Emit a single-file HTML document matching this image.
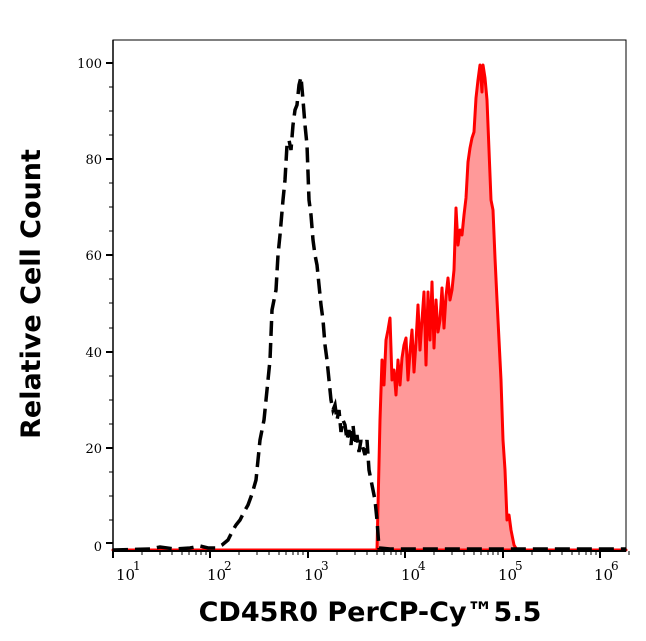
<!DOCTYPE html>
<html><head><meta charset="utf-8"><style>
body{margin:0;background:#fff;}
svg{display:block;font-family:"DejaVu Serif","Liberation Serif",serif;}
</style></head><body>
<svg width="646" height="641" viewBox="0 0 646 641" xmlns="http://www.w3.org/2000/svg">
<rect width="646" height="641" fill="#fff"/>
<path d="M113,550 L377,550 L380,420 L382,360 L384,385 L386,340 L388,330 L390,318 L392,380 L394,370 L396,395 L398,360 L400,385 L402,358 L404,345 L406,338 L408,380 L410,352 L412,330 L414,372 L416,342 L418,305 L420,350 L422,320 L424,292 L426,365 L428,292 L430,340 L432,282 L434,348 L436,300 L438,332 L440,320 L442,288 L444,328 L446,296 L448,278 L450,300 L452,290 L454,270 L456,208 L458,245 L460,230 L462,235 L464,215 L466,198 L468,162 L470,148 L472,138 L474,132 L476,98 L478,80 L480,65 L482,92 L483,65 L485,78 L487,100 L489,150 L491,200 L493,210 L495,258 L497,300 L499,340 L501,380 L503,440 L505,470 L507,520 L509,515 L511,530 L514,545 L517,550 L626,550 Z" fill="#ff9999" stroke="#ff0000" stroke-width="3" stroke-linejoin="round"/>
<polyline fill="none" stroke="#000" stroke-width="3.5" stroke-dasharray="15,7" points="113,550 150,549 160,547 175,549 190,548 200,546 208,548 216,548 222,545 228,540 233,530 236,525 240,520 244,512 248,505 252,494 256,480 258,460 260,440 262,430 264,420 266,400 268,380 270,360 272,310 274,300 276,290 278,255 280,235 283,200 285,180 287,145 289,140 291,150 293,125 295,110 297,105 299,85 301,77 303,100 305,125 307,145 309,200 311,215 313,240 315,255 317,265 319,285 321,305 323,320 325,345 327,360 329,380 331,400 333,410 335,405 337,420 339,410 341,432 343,420 345,425 347,440 349,430 351,445 353,425 355,445 357,435 359,452 361,440 363,448 365,455 367,440 369,470 371,480 373,490 375,500 377,520 379,548 390,549 626,549"/>
<rect x="113" y="40" width="513" height="511" fill="none" stroke="#000" stroke-width="1"/>
<line x1="113" y1="551" x2="626" y2="551" stroke="#000" stroke-width="2"/>
<line x1="113" y1="40" x2="113" y2="551" stroke="#000" stroke-width="1.5"/>
<g stroke="#000" stroke-width="2">
<line x1="106" y1="63" x2="113" y2="63"/><line x1="106" y1="159" x2="113" y2="159"/>
<line x1="106" y1="255" x2="113" y2="255"/><line x1="106" y1="352" x2="113" y2="352"/>
<line x1="106" y1="448" x2="113" y2="448"/><line x1="106" y1="543" x2="113" y2="543"/>
</g>
<g stroke="#000" stroke-width="1">
<line x1="109" y1="87" x2="113" y2="87"/><line x1="109" y1="111" x2="113" y2="111"/><line x1="109" y1="135" x2="113" y2="135"/>
<line x1="109" y1="183" x2="113" y2="183"/><line x1="109" y1="207" x2="113" y2="207"/><line x1="109" y1="231" x2="113" y2="231"/>
<line x1="109" y1="279" x2="113" y2="279"/><line x1="109" y1="303" x2="113" y2="303"/><line x1="109" y1="328" x2="113" y2="328"/>
<line x1="109" y1="376" x2="113" y2="376"/><line x1="109" y1="400" x2="113" y2="400"/><line x1="109" y1="424" x2="113" y2="424"/>
<line x1="109" y1="472" x2="113" y2="472"/><line x1="109" y1="496" x2="113" y2="496"/><line x1="109" y1="520" x2="113" y2="520"/>
</g>
<g font-size="13" text-anchor="end" fill="#000">
<text x="102" y="68">100</text><text x="102" y="164">80</text><text x="102" y="260">60</text>
<text x="102" y="357">40</text><text x="102" y="453">20</text><text x="102" y="551">0</text>
</g>
<g stroke="#000">
<line x1="113" y1="551" x2="113" y2="558" stroke-width="2"/>
<line x1="210" y1="551" x2="210" y2="558" stroke-width="2"/>
<line x1="308" y1="551" x2="308" y2="558" stroke-width="2"/>
<line x1="405" y1="551" x2="405" y2="558" stroke-width="2"/>
<line x1="503" y1="551" x2="503" y2="558" stroke-width="2"/>
<line x1="600" y1="551" x2="600" y2="558" stroke-width="2"/>
</g>
<g stroke="#000" stroke-width="1">
<path d="M142,551v4M160,551v4M172,551v4M182,551v4M189,551v4M196,551v4M201,551v4M206,551v4
M239,551v4M257,551v4M269,551v4M279,551v4M286,551v4M293,551v4M298,551v4M303,551v4
M337,551v4M355,551v4M367,551v4M377,551v4M384,551v4M391,551v4M396,551v4M401,551v4
M434,551v4M452,551v4M464,551v4M474,551v4M481,551v4M488,551v4M493,551v4M498,551v4
M532,551v4M550,551v4M562,551v4M572,551v4M579,551v4M586,551v4M591,551v4M596,551v4M629,551v4"/>
</g>
<g font-size="15" fill="#000">
<text x="116" y="580">10</text><text x="133" y="570" font-size="12">1</text>
<text x="207" y="580">10</text><text x="224" y="570" font-size="12">2</text>
<text x="304" y="580">10</text><text x="321" y="570" font-size="12">3</text>
<text x="401" y="580">10</text><text x="418" y="570" font-size="12">4</text>
<text x="498" y="580">10</text><text x="515" y="570" font-size="12">5</text>
<text x="594" y="580">10</text><text x="611" y="570" font-size="12">6</text>
</g>
<text x="370" y="621" text-anchor="middle" font-family="'DejaVu Sans',sans-serif" font-weight="bold" font-size="27">CD45R0 PerCP-Cy™5.5</text>
<text transform="translate(40,294) rotate(-90)" text-anchor="middle" font-family="'DejaVu Sans',sans-serif" font-weight="bold" font-size="27">Relative Cell Count</text>
</svg>
</body></html>
